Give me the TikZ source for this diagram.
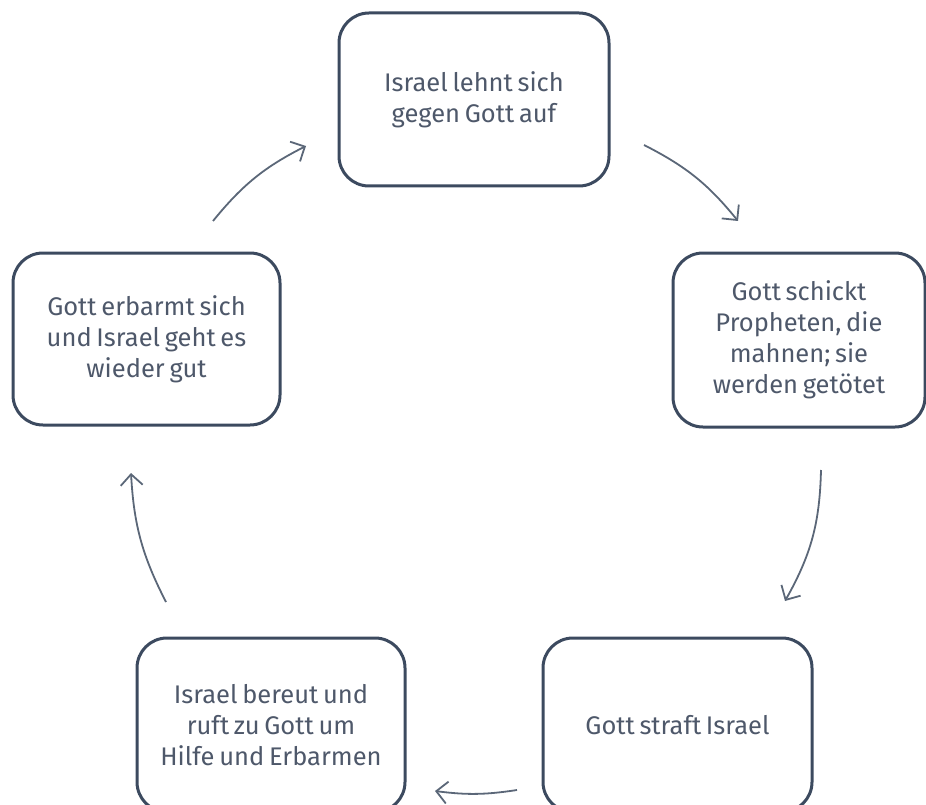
\documentclass[tikz,border=0pt]{standalone}
\usepackage{fontspec}
\setmainfont{Fira Sans}[WordSpace=0.7]
\usetikzlibrary{arrows.meta}
\definecolor{boxline}{HTML}{3C4A5F}
\definecolor{boxtext}{HTML}{4E586A}
\definecolor{arrowcol}{HTML}{5B6778}
\tikzset{
  cyclebox/.style={draw=boxline, line width=3pt, rounded corners=30pt, align=center,
    text=boxtext, font=\fontsize{25.5}{31}\selectfont, inner sep=0pt},
  cyclearrow/.style={draw=arrowcol, line width=1.8pt,
    -{Straight Barb[length=11pt,width=22pt,line width=1.8pt]}}
}
\begin{document}
\begin{tikzpicture}[x=1pt,y=1pt]
\useasboundingbox (0,0) rectangle (926,-805);
\clip (0,0) rectangle (926,-805);
\node[cyclebox, minimum width=270pt, minimum height=173pt] (top) at (474,-99.5)
  {Israel lehnt sich\\gegen Gott auf};
\node[cyclebox, minimum width=267pt, minimum height=172pt] (left) at (146.5,-339)
  {Gott erbarmt sich\\und Israel geht es\\wieder gut};
\node[cyclebox, minimum width=252pt, minimum height=174pt] (right) at (799,-340)
  {Gott schickt\\Propheten, die\\mahnen; sie\\werden getötet};
\node[cyclebox, minimum width=268pt, minimum height=174pt] (bl) at (271,-725)
  {Israel bereut und\\ruft zu Gott um\\Hilfe und Erbarmen};
\node[cyclebox, minimum width=269pt, minimum height=174pt] (br) at (677.5,-725)
  {Gott straft Israel};
\coordinate (a1s) at (644,-145);
\coordinate (a1e) at (738,-221);
\coordinate (a2s) at (821,-470);
\coordinate (a2e) at (785,-601);
\coordinate (a3s) at (517,-790);
\coordinate (a3e) at (435,-791);
\coordinate (a4s) at (166,-602);
\coordinate (a4e) at (131,-473);
\coordinate (a5s) at (213,-221);
\coordinate (a5e) at (306,-146);
\draw[cyclearrow] (a1s) to[bend left=12] (a1e);
\draw[cyclearrow] (a2s) to[bend left=14] (a2e);
\draw[cyclearrow] (a3s) to[bend left=8] (a3e);
\draw[cyclearrow] (a4s) to[bend left=12] (a4e);
\draw[cyclearrow] (a5s) to[bend left=12] (a5e);
\end{tikzpicture}
\end{document}
